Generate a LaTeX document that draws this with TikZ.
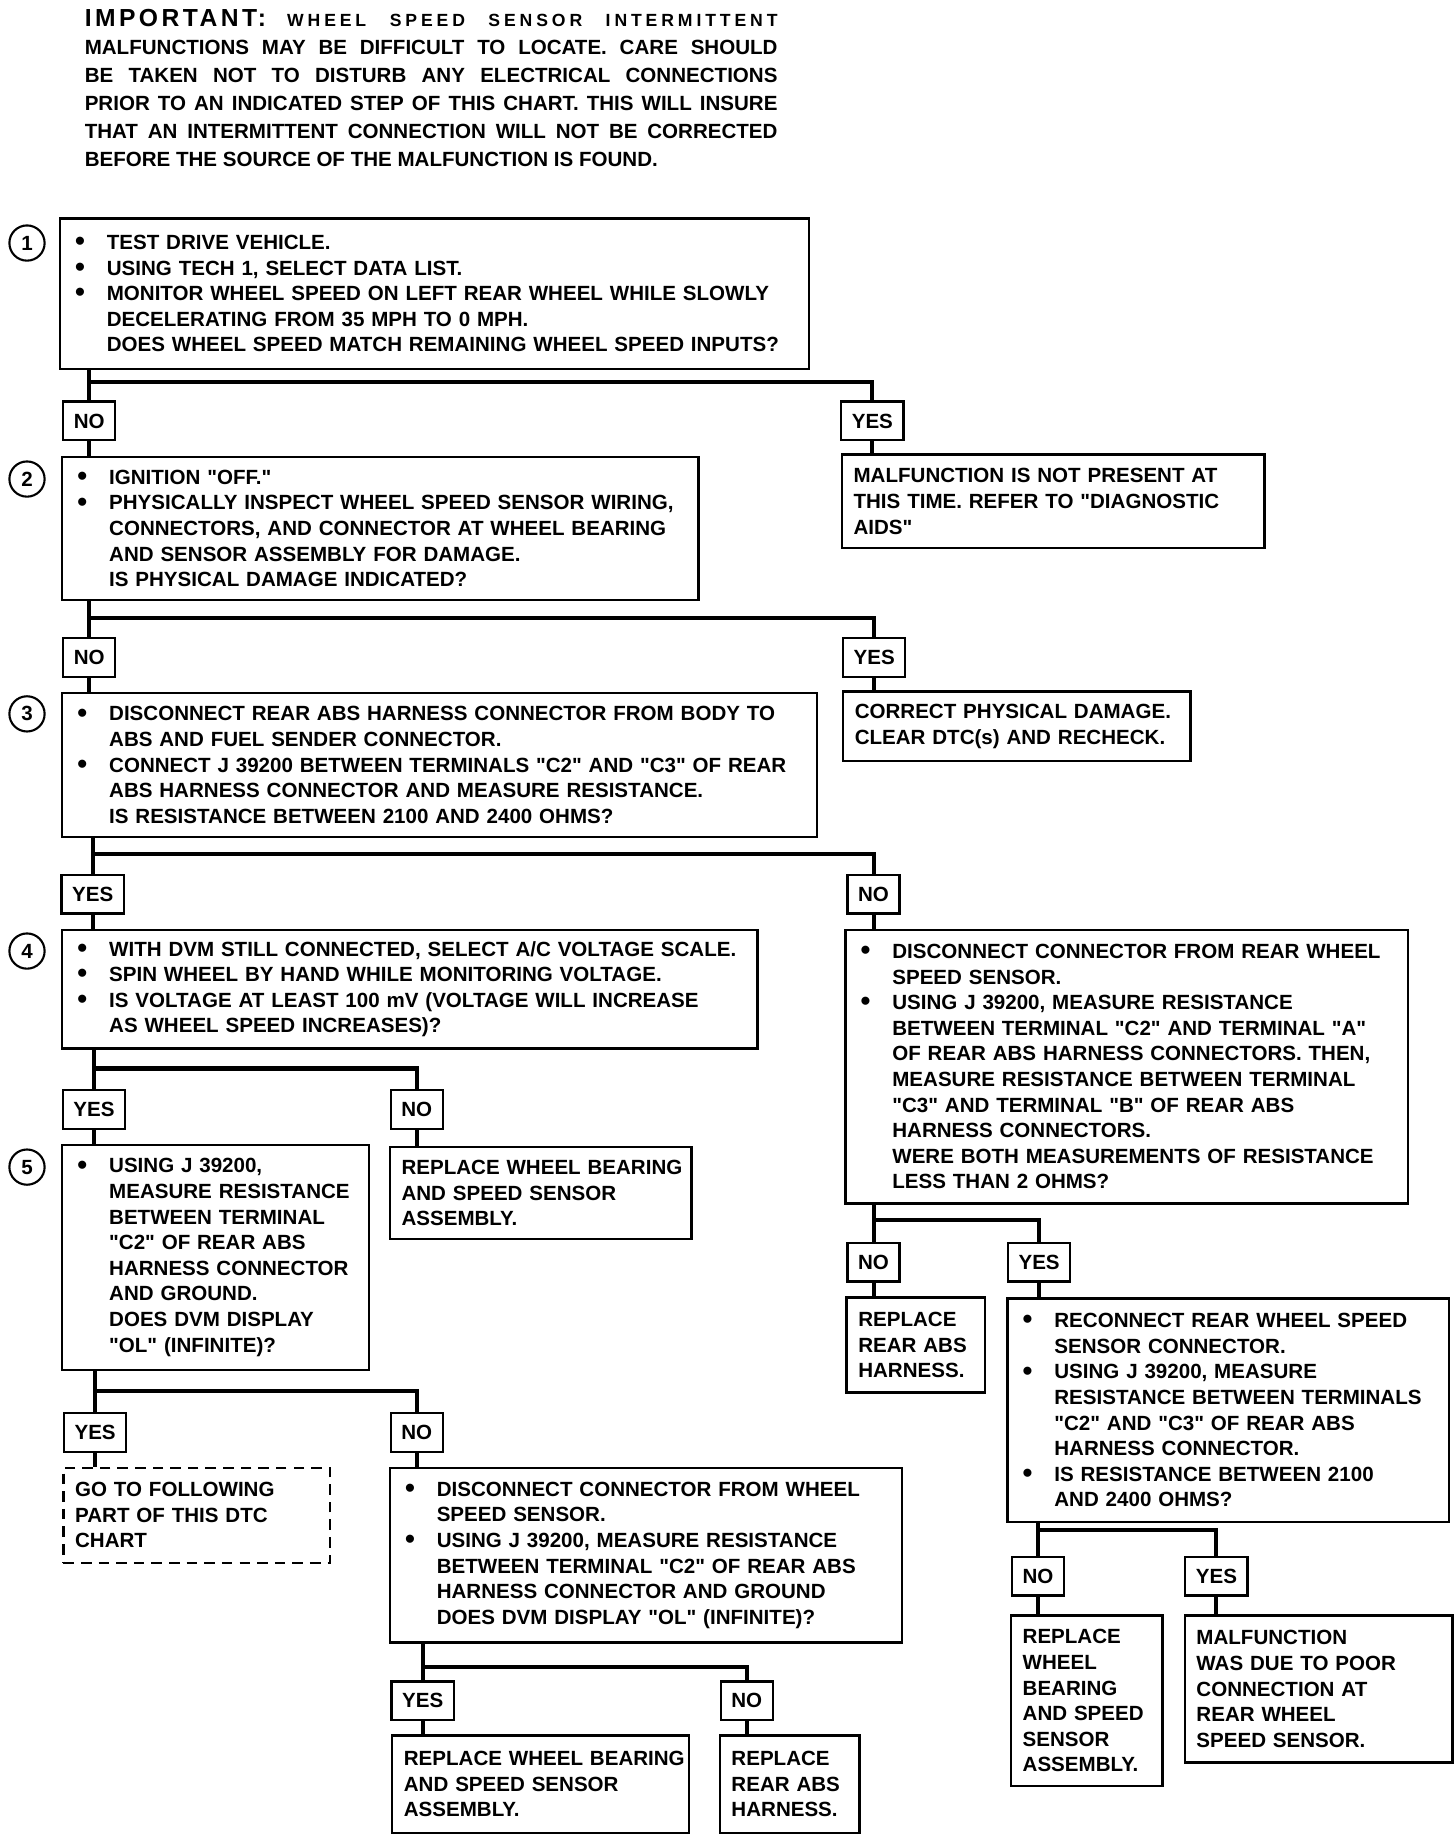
\documentclass[tikz,border=0pt]{standalone}
\usepackage{fontspec}
\setmainfont{Liberation Sans}[Ligatures=TeXOff]
\newcommand\boxfont{\fontsize{17.5}{21.8}\selectfont\bfseries}
\newcommand\notefont{\fontsize{17.5}{23.8}\selectfont\bfseries}
\newcommand\bul{\makebox[30pt][l]{\hspace{3pt}\raisebox{-1pt}{\fontsize{24}{21.8}\selectfont\textbullet}}}
\newcommand\ind{\hspace*{30pt}}
\newcommand\dq{\symbol{34}}

\tikzset{
	stepbox/.style={draw, line width=2pt, anchor=north west, inner xsep=10pt, inner ysep=0pt, align=left, font=\boxfont},
	ans/.style={draw, line width=2pt, minimum height=33pt, inner xsep=9pt, inner ysep=0pt, font=\boxfont},
	num/.style={draw, circle, line width=1.8pt, minimum size=30pt, inner sep=0pt, font=\boxfont},
	link/.style={line width=3.5pt}
}

\begin{document}
\begin{tikzpicture}[x=1pt, y=-1pt]
	\useasboundingbox (0,0) rectangle (1240,1562);

	\node (note) [anchor=north west, text width=590pt, align=justify, inner sep=0pt, font=\notefont] at (72,8)
		{{\fontsize{21}{23.8}\selectfont\addfontfeature{LetterSpace=14}IMPORTANT:}\hspace{18pt}{\fontsize{15}{23.8}\selectfont\addfontfeature{LetterSpace=22}WHEEL\hfill SPEED\hfill SENSOR\hfill INTERMITTENT}\linebreak
		MALFUNCTIONS MAY BE DIFFICULT TO LOCATE. CARE SHOULD\linebreak
		BE TAKEN NOT TO DISTURB ANY ELECTRICAL CONNECTIONS\linebreak
		PRIOR TO AN INDICATED STEP OF THIS CHART. THIS WILL INSURE\linebreak
		THAT AN INTERMITTENT CONNECTION WILL NOT BE CORRECTED\linebreak
		BEFORE THE SOURCE OF THE MALFUNCTION IS FOUND.};

	\node (n1) [num] at (23,207) {1};
	\node (n2) [num] at (23,408) {2};
	\node (n3) [num] at (23,608) {3};
	\node (n4) [num] at (23,810) {4};
	\node (n5) [num] at (23,994) {5};

	\node (box1) [stepbox, text width=618pt, minimum height=128pt] at (50,185)
		{\bul TEST DRIVE VEHICLE.\\
		\bul USING TECH 1, SELECT DATA LIST.\\
		\bul MONITOR WHEEL SPEED ON LEFT REAR WHEEL WHILE SLOWLY\\
		\ind DECELERATING FROM 35 MPH TO 0 MPH.\\
		\ind DOES WHEEL SPEED MATCH REMAINING WHEEL SPEED INPUTS?};
	\node (no1) [ans] at (76,358.5) {NO};
	\node (yes1) [ans] at (743,358.5) {YES};
	\node (notnow) [stepbox, text width=340pt, minimum height=80pt] at (716,386)
		{MALFUNCTION IS NOT PRESENT AT\\ THIS TIME. REFER TO \dq DIAGNOSTIC\\ AIDS\dq};

	\node (box2) [stepbox, text width=522pt, minimum height=122pt] at (52,388)
		{\bul IGNITION \dq OFF.\dq\\
		\bul PHYSICALLY INSPECT WHEEL SPEED SENSOR WIRING,\\
		\ind CONNECTORS, AND CONNECTOR AT WHEEL BEARING\\
		\ind AND SENSOR ASSEMBLY FOR DAMAGE.\\
		\ind IS PHYSICAL DAMAGE INDICATED?};
	\node (no2) [ans] at (76,560) {NO};
	\node (yes2) [ans] at (744.5,560) {YES};
	\node (fixdmg) [stepbox, text width=276pt, minimum height=59pt] at (717,588)
		{CORRECT PHYSICAL DAMAGE.\\ CLEAR DTC(s) AND RECHECK.};

	\node (box3) [stepbox, text width=623pt, minimum height=123pt] at (52,589)
		{\bul DISCONNECT REAR ABS HARNESS CONNECTOR FROM BODY TO\\
		\ind ABS AND FUEL SENDER CONNECTOR.\\
		\bul CONNECT J 39200 BETWEEN TERMINALS \dq C2\dq{} AND \dq C3\dq{} OF REAR\\
		\ind ABS HARNESS CONNECTOR AND MEASURE RESISTANCE.\\
		\ind IS RESISTANCE BETWEEN 2100 AND 2400 OHMS?};
	\node (yes3) [ans] at (79,761.5) {YES};
	\node (no3) [ans] at (744,761.5) {NO};

	\node (box4) [stepbox, text width=572pt, minimum height=101pt] at (52,791)
		{\bul WITH DVM STILL CONNECTED, SELECT A/C VOLTAGE SCALE.\\
		\bul SPIN WHEEL BY HAND WHILE MONITORING VOLTAGE.\\
		\bul IS VOLTAGE AT LEAST 100 mV (VOLTAGE WILL INCREASE\\
		\ind AS WHEEL SPEED INCREASES)?};
	\node (chk) [stepbox, text width=459pt, minimum height=233pt] at (719,791)
		{\bul DISCONNECT CONNECTOR FROM REAR WHEEL\\
		\ind SPEED SENSOR.\\
		\bul USING J 39200, MEASURE RESISTANCE\\
		\ind BETWEEN TERMINAL \dq C2\dq{} AND TERMINAL \dq A\dq\\
		\ind OF REAR ABS HARNESS CONNECTORS. THEN,\\
		\ind MEASURE RESISTANCE BETWEEN TERMINAL\\
		\ind \dq C3\dq{} AND TERMINAL \dq B\dq{} OF REAR ABS\\
		\ind HARNESS CONNECTORS.\\
		\ind WERE BOTH MEASUREMENTS OF RESISTANCE\\
		\ind LESS THAN 2 OHMS?};

	\node (yes4) [ans] at (80,945) {YES};
	\node (no4) [ans] at (355,945) {NO};
	\node (box5) [stepbox, text width=241pt, minimum height=192pt] at (52,974)
		{\bul USING J 39200,\\
		\ind MEASURE RESISTANCE\\
		\ind BETWEEN TERMINAL\\
		\ind \dq C2\dq{} OF REAR ABS\\
		\ind HARNESS CONNECTOR\\
		\ind AND GROUND.\\
		\ind DOES DVM DISPLAY\\
		\ind \dq OL\dq{} (INFINITE)?};
	\node (repl1) [stepbox, text width=237pt, minimum height=78pt] at (331,976)
		{\mbox{REPLACE WHEEL BEARING}\\ AND SPEED SENSOR\\ ASSEMBLY.};

	\node (yes5) [ans] at (81,1220) {YES};
	\node (no5) [ans] at (355,1220) {NO};
	\node (goon) [stepbox, dashed, dash pattern=on 9pt off 6pt, text width=207pt, minimum height=81pt] at (53,1249)
		{GO TO FOLLOWING\\ PART OF THIS DTC\\ CHART};
	\node (gnd) [stepbox, text width=416pt, minimum height=149pt] at (331,1249)
		{\bul DISCONNECT CONNECTOR FROM WHEEL\\
		\ind SPEED SENSOR.\\
		\bul USING J 39200, MEASURE RESISTANCE\\
		\ind BETWEEN TERMINAL \dq C2\dq{} OF REAR ABS\\
		\ind HARNESS CONNECTOR AND GROUND\\
		\ind DOES DVM DISPLAY \dq OL\dq{} (INFINITE)?};

	\node (yes6) [ans] at (360,1448.5) {YES};
	\node (no6) [ans] at (636,1448.5) {NO};
	\node (repl2) [stepbox, text width=233pt, minimum height=83pt] at (333,1477)
		{\mbox{REPLACE WHEEL BEARING}\\ AND SPEED SENSOR\\ ASSEMBLY.};
	\node (harn1) [stepbox, text width=99pt, minimum height=83pt] at (612,1477)
		{REPLACE\\ REAR ABS\\ HARNESS.};

	\node (no7) [ans] at (744,1075) {NO};
	\node (yes7) [ans] at (885,1075) {YES};
	\node (harn2) [stepbox, text width=98pt, minimum height=81pt] at (720,1104)
		{REPLACE\\ REAR ABS\\ HARNESS.};
	\node (recon) [stepbox, text width=356pt, minimum height=190pt] at (857,1105)
		{\bul RECONNECT REAR WHEEL SPEED\\
		\ind SENSOR CONNECTOR.\\
		\bul USING J 39200, MEASURE\\
		\ind RESISTANCE BETWEEN TERMINALS\\
		\ind \dq C2\dq{} AND \dq C3\dq{} OF REAR ABS\\
		\ind HARNESS CONNECTOR.\\
		\bul IS RESISTANCE BETWEEN 2100\\
		\ind AND 2400 OHMS?};

	\node (no8) [ans] at (884,1342.5) {NO};
	\node (yes8) [ans] at (1036,1342.5) {YES};
	\node (repl3) [stepbox, text width=109pt, minimum height=145pt] at (860,1375)
		{REPLACE\\ WHEEL\\ BEARING\\ AND SPEED\\ SENSOR\\ ASSEMBLY.};
	\node (poor) [stepbox, text width=208pt, minimum height=125pt] at (1008,1375)
		{MALFUNCTION\\ WAS DUE TO POOR\\ CONNECTION AT\\ REAR WHEEL\\ SPEED SENSOR.};

	\coordinate (split1) at (76,325);
	\coordinate (split2) at (76,526);
	\coordinate (split3) at (79,727);
	\coordinate (split4) at (80,910);
	\coordinate (split5) at (81,1185);
	\coordinate (split6) at (360,1420);
	\coordinate (split7) at (744,1039);
	\coordinate (split8) at (884,1303);

	\path[link] (box1.south -| no1) edge (no1.north);
	\draw[link] (split1) -| (yes1.north);
	\path[link] (no1.south) edge (no1.south |- box2.north);
	\path[link] (yes1.south) edge (yes1.south |- notnow.north);

	\path[link] (box2.south -| no2) edge (no2.north);
	\draw[link] (split2) -| (yes2.north);
	\path[link] (no2.south) edge (no2.south |- box3.north);
	\path[link] (yes2.south) edge (yes2.south |- fixdmg.north);

	\path[link] (box3.south -| yes3) edge (yes3.north);
	\draw[link] (split3) -| (no3.north);
	\path[link] (yes3.south) edge (yes3.south |- box4.north);
	\path[link] (no3.south) edge (no3.south |- chk.north);

	\path[link] (box4.south -| yes4) edge (yes4.north);
	\draw[link] (split4) -| (no4.north);
	\path[link] (yes4.south) edge (yes4.south |- box5.north);
	\path[link] (no4.south) edge (no4.south |- repl1.north);

	\path[link] (box5.south -| yes5) edge (yes5.north);
	\draw[link] (split5) -| (no5.north);
	\path[link] (yes5.south) edge (yes5.south |- goon.north);
	\path[link] (no5.south) edge (no5.south |- gnd.north);

	\path[link] (gnd.south -| yes6) edge (yes6.north);
	\draw[link] (split6) -| (no6.north);
	\path[link] (yes6.south) edge (yes6.south |- repl2.north);
	\path[link] (no6.south) edge (no6.south |- harn1.north);

	\path[link] (chk.south -| no7) edge (no7.north);
	\draw[link] (split7) -| (yes7.north);
	\path[link] (no7.south) edge (no7.south |- harn2.north);
	\path[link] (yes7.south) edge (yes7.south |- recon.north);

	\path[link] (recon.south -| no8) edge (no8.north);
	\draw[link] (split8) -| (yes8.north);
	\path[link] (no8.south) edge (no8.south |- repl3.north);
	\path[link] (yes8.south) edge (yes8.south |- poor.north);
\end{tikzpicture}
\end{document}
